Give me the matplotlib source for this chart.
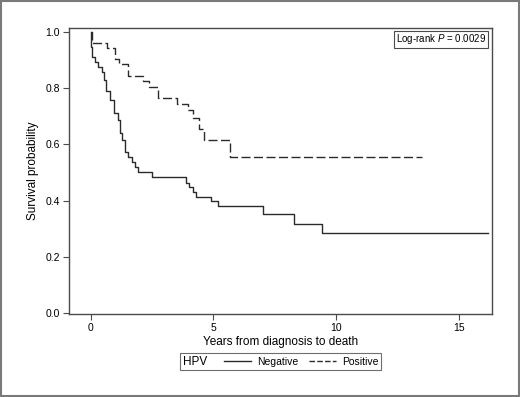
"""Kaplan-Meier style survival curves by HPV status."""

import matplotlib
matplotlib.use("Agg")
import matplotlib.pyplot as plt
import matplotlib.lines as mlines
import matplotlib.patches as mpatches
from matplotlib.offsetbox import HPacker

plt.rcParams["font.family"] = ["Liberation Sans", "DejaVu Sans"]
plt.rcParams["mathtext.fontset"] = "custom"
plt.rcParams["mathtext.it"] = "Liberation Sans:italic"
plt.rcParams["mathtext.rm"] = "Liberation Sans"

# Step curves (time in years, survival probability)
neg_time = [0, 0.02, 0.07, 0.18, 0.31, 0.45, 0.54, 0.62, 0.79, 0.95, 1.13, 1.19,
            1.26, 1.40, 1.53, 1.67, 1.81, 1.94, 2.49, 3.88, 4.02, 4.18, 4.30,
            4.92, 5.18, 7.03, 8.30, 9.44, 16.18]
neg_surv = [1.0, 0.948, 0.912, 0.894, 0.876, 0.859, 0.829, 0.791, 0.758, 0.711,
            0.687, 0.639, 0.616, 0.574, 0.556, 0.538, 0.521, 0.503, 0.485, 0.464,
            0.448, 0.430, 0.414, 0.400, 0.380, 0.351, 0.318, 0.286, 0.286]

pos_time = [0, 0.04, 0.65, 0.99, 1.16, 1.53, 2.15, 2.39, 2.74, 3.53, 3.98, 4.19,
            4.43, 4.61, 5.67, 13.5]
pos_surv = [1.0, 0.962, 0.942, 0.903, 0.885, 0.843, 0.826, 0.805, 0.764, 0.745,
            0.722, 0.695, 0.655, 0.617, 0.556, 0.556]

groups = ["Negative", "Positive"]
x_ticks = [0, 5, 10, 15]
y_ticks = [0.0, 0.2, 0.4, 0.6, 0.8, 1.0]
p_value = "0.0029"

LINE = "#2b2b2b"
AXC = "#4a4a4a"

fig = plt.figure(figsize=(5.2, 3.97), dpi=100)
ax = fig.add_axes([0.1327, 0.2091, 0.8135, 0.7204])

ax.step(neg_time, neg_surv, where="post", color=LINE, lw=1.0, label=groups[0])
ax.step(pos_time, pos_surv, where="post", color=LINE, lw=1.0,
        dashes=(6.5, 2.5), label=groups[1])

ax.set_xlim(-0.885, 16.36)
ax.set_ylim(-0.0036, 1.0142)
ax.set_xticks(x_ticks)
ax.set_yticks(y_ticks)
ax.set_yticklabels([f"{v:.1f}" for v in y_ticks])
ax.tick_params(labelsize=7.5, length=4, width=0.8, color=AXC, pad=2.5)
for s in ax.spines.values():
    s.set_color(AXC)
    s.set_linewidth(1.0)

ax.set_xlabel("Years from diagnosis to death", fontsize=8.5, labelpad=2)
ax.set_ylabel("Survival probability", fontsize=8.5, labelpad=5)

ax.text(0.986, 0.985, r"Log-rank $\it{P}$ = " + p_value, transform=ax.transAxes,
        ha="right", va="top", fontsize=7,
        bbox=dict(boxstyle="square,pad=0.15", fc="white", ec=AXC, lw=0.8))

# Legend: "HPV" as a title placed to the left of the entries
handles = [
    mlines.Line2D([], [], color=LINE, lw=1.0),
    mlines.Line2D([], [], color=LINE, lw=1.0, dashes=(4, 1.6)),
]
leg = fig.legend(handles, groups, title="HPV", loc="center",
                 bbox_to_anchor=(0.5395, 0.089), ncol=2, fontsize=7.5,
                 title_fontsize=8.5, frameon=True, fancybox=False,
                 edgecolor=AXC, handlelength=2.6, handletextpad=0.6,
                 columnspacing=1.0, borderpad=0.25, borderaxespad=0)
leg.get_frame().set_linewidth(0.8)
box = HPacker(pad=leg.borderpad * 7.5, sep=12, align="center",
              children=[leg._legend_title_box, leg._legend_handle_box])
box.set_figure(fig)
leg._legend_box = box
leg._legend_box.set_offset(leg._findoffset)

# outer frame around the whole figure
fig.patches.append(mpatches.Rectangle((0.002, 0.003), 0.996, 0.994,
                                      transform=fig.transFigure, fill=False,
                                      ec="#7a7a7a", lw=1.5))

fig.savefig("out.png", dpi=100)
